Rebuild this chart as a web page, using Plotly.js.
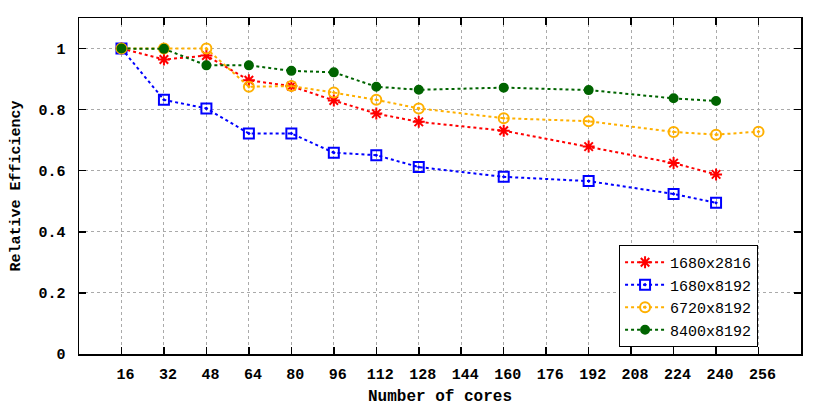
<!DOCTYPE html>
<html>
<head>
<meta charset="utf-8">
<script src="https://cdn.plot.ly/plotly-3.0.1.min.js"></script>
<style>
  html, body { margin: 0; padding: 0; background: #fff; }
  #chart { width: 830px; height: 406px; }
</style>
</head>
<body>
<div id="chart"></div>
<script>
'use strict';

/* ---- data ---- */
var cores      = [16, 32, 48, 64, 80, 96, 112, 128, 160, 192, 224, 240];
var coresLong  = [16, 32, 48, 64, 80, 96, 112, 128, 160, 192, 224, 240, 256];

var eff1680x2816 = [1.0, 0.964, 0.977, 0.896, 0.877, 0.830, 0.787, 0.760, 0.731, 0.679, 0.625, 0.588];
var eff1680x8192 = [1.0, 0.832, 0.804, 0.722, 0.722, 0.659, 0.651, 0.612, 0.580, 0.566, 0.524, 0.495];
var eff6720x8192 = [1.0, 1.0, 1.0, 0.875, 0.877, 0.856, 0.832, 0.804, 0.772, 0.762, 0.727, 0.718, 0.728];
var eff8400x8192 = [1.0, 0.999, 0.945, 0.945, 0.927, 0.922, 0.875, 0.865, 0.872, 0.864, 0.837, 0.828];

var xTicks = [16, 32, 48, 64, 80, 96, 112, 128, 144, 160, 176, 192, 208, 224, 240, 256];
var yTicks = [0, 0.2, 0.4, 0.6, 0.8, 1];

var FONT = 'Liberation Mono, Courier New, monospace';

function series(name, x, y, color, symbol, size) {
  return {
    x: x, y: y, name: name,
    type: 'scatter', mode: 'lines+markers',
    line: { color: color, width: 2, dash: 'dot' },
    marker: { color: color, symbol: symbol, size: size,
              line: { color: color, width: 2 } }
  };
}

var traces = [
  series('1680x2816', cores,     eff1680x2816, '#ff0000', 'asterisk-open',   10),
  series('1680x8192', cores,     eff1680x8192, '#0000ff', 'square-open-dot', 10),
  series('6720x8192', coresLong, eff6720x8192, '#ffb000', 'circle-open-dot', 10),
  series('8400x8192', cores,     eff8400x8192, '#006400', 'circle',           8)
];

var axisCommon = {
  showline: true, linecolor: '#000', linewidth: 1.5, mirror: 'allticks',
  ticks: 'inside', ticklen: 7, tickwidth: 1.5, tickcolor: '#000',
  showgrid: true, gridcolor: '#aaaaaa', griddash: 'dot', gridwidth: 1,
  zeroline: false,
  tickfont: { family: FONT, size: 15, color: '#000', weight: 'bold' }
};

var layout = {
  width: 830, height: 406,
  margin: { l: 79, r: 29, t: 18, b: 52 },
  paper_bgcolor: '#fff', plot_bgcolor: '#fff',
  font: { family: FONT, size: 15, color: '#000' },
  showlegend: true,
  legend: {
    x: 0.748, y: 0.021, xanchor: 'left', yanchor: 'bottom',
    bgcolor: '#fff', bordercolor: '#000', borderwidth: 1,
    font: { family: FONT, size: 15, color: '#000' },
    tracegroupgap: 0, itemwidth: 40
  },
  xaxis: Object.assign({}, axisCommon, {
    range: [0, 272],
    tickmode: 'array', tickvals: xTicks, ticktext: xTicks.map(String),
    ticklabelstandoff: 5, ticklabelshift: 4,
    title: { text: 'Number of cores', standoff: 8,
             font: { family: FONT, size: 16, color: '#000', weight: 'bold' } }
  }),
  yaxis: Object.assign({}, axisCommon, {
    range: [0, 1.1],
    tickmode: 'array', tickvals: yTicks, ticktext: yTicks.map(String),
    ticklabelstandoff: 9,
    title: { text: 'Relative Efficiency', standoff: 14,
             font: { family: FONT, size: 15, color: '#000', weight: 'bold' } }
  })
};

Plotly.newPlot('chart', traces, layout, { displayModeBar: false, staticPlot: true });
</script>
</body>
</html>
